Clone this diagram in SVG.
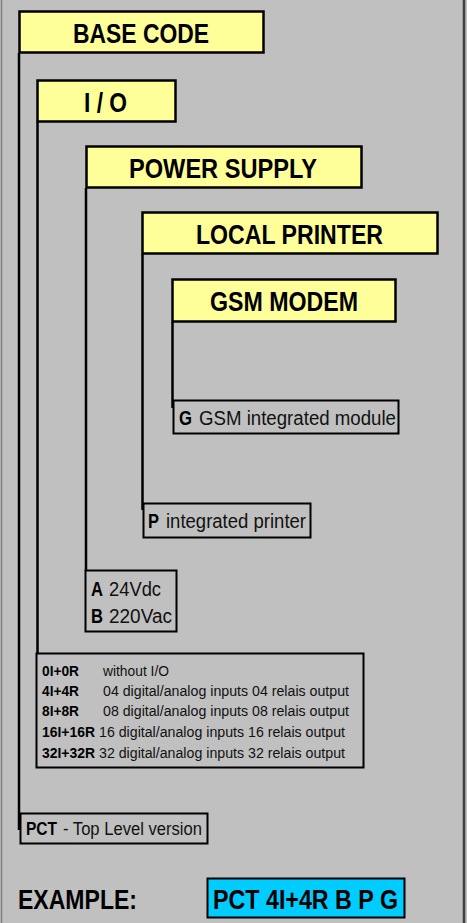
<svg xmlns="http://www.w3.org/2000/svg" width="467" height="923" viewBox="0 0 467 923">
<style>
.bg{fill:#c0c0c0}
.hdr{fill:#ffff99;stroke:#000;stroke-width:2.5}
.opt{fill:none;stroke:#000;stroke-width:2}
.ex{fill:#00ccff;stroke:#000;stroke-width:2}
.conn{stroke:#000;stroke-width:2.5;fill:none}
text{font-family:"Liberation Sans Narrow","Liberation Sans",Arial,sans-serif}
.h{font-size:27px;font-weight:bold;fill:#000}
.b{font-weight:bold;fill:#000}
.r{fill:#111}
.s19{font-size:20px}
.s17{font-size:17.5px}
.s15{font-size:15.5px}
</style>
<rect class="bg" x="0" y="0" width="467" height="923"/>
<line x1="1.5" y1="0" x2="1.5" y2="923" stroke="#808080" stroke-width="1.5"/>
<line x1="464" y1="0" x2="464" y2="923" stroke="#404040" stroke-width="2.5"/>

<g id="connectors">
<line class="conn" x1="19" y1="53" x2="19" y2="830"/>
<line class="conn" x1="37.5" y1="122" x2="37.5" y2="653"/>
<line class="conn" x1="86" y1="188" x2="86" y2="571"/>
<line class="conn" x1="142.5" y1="254" x2="142.5" y2="510"/>
<line class="conn" x1="172.5" y1="322" x2="172.5" y2="408"/>
</g>

<g id="base-code">
<rect class="hdr" x="19.5" y="11.5" width="244" height="41"/>
<text class="h" x="73" y="43" textLength="136" lengthAdjust="spacingAndGlyphs">BASE CODE</text>
</g>
<g id="io">
<rect class="hdr" x="37.5" y="80.5" width="138" height="41"/>
<text class="h" x="84" y="112" textLength="43" lengthAdjust="spacingAndGlyphs">I / O</text>
</g>
<g id="power-supply">
<rect class="hdr" x="86.5" y="146.5" width="275" height="41"/>
<text class="h" x="129" y="178" textLength="188" lengthAdjust="spacingAndGlyphs">POWER SUPPLY</text>
</g>
<g id="local-printer">
<rect class="hdr" x="142.5" y="212.5" width="295" height="41"/>
<text class="h" x="196" y="244" textLength="187" lengthAdjust="spacingAndGlyphs">LOCAL PRINTER</text>
</g>
<g id="gsm-modem">
<rect class="hdr" x="172.5" y="279.5" width="223" height="42"/>
<text class="h" x="210" y="311" textLength="148" lengthAdjust="spacingAndGlyphs">GSM MODEM</text>
</g>

<g id="gsm-option">
<rect class="opt" x="173.5" y="400.5" width="225" height="33"/>
<text class="b s19" x="179" y="425" textLength="13" lengthAdjust="spacingAndGlyphs">G</text>
<text class="r s19" x="199" y="425" textLength="197" lengthAdjust="spacingAndGlyphs">GSM integrated module</text>
</g>
<g id="printer-option">
<rect class="opt" x="143.5" y="503.5" width="167" height="34"/>
<text class="b s19" x="148" y="528" textLength="11" lengthAdjust="spacingAndGlyphs">P</text>
<text class="r s19" x="166" y="528" textLength="140" lengthAdjust="spacingAndGlyphs">integrated printer</text>
</g>
<g id="power-options">
<rect class="opt" x="85.5" y="570.5" width="91" height="61"/>
<text class="b s19" x="91" y="596" textLength="12" lengthAdjust="spacingAndGlyphs">A</text>
<text class="r s19" x="109" y="596" textLength="52" lengthAdjust="spacingAndGlyphs">24Vdc</text>
<text class="b s19" x="91" y="623" textLength="12" lengthAdjust="spacingAndGlyphs">B</text>
<text class="r s19" x="109" y="623" textLength="63" lengthAdjust="spacingAndGlyphs">220Vac</text>
</g>
<g id="io-options">
<rect class="opt" x="36.5" y="653.5" width="327" height="114"/>
<text class="b s15" x="42" y="676" textLength="37" lengthAdjust="spacingAndGlyphs">0I+0R</text>
<text class="r s15" x="103" y="676" textLength="66" lengthAdjust="spacingAndGlyphs">without I/O</text>
<text class="b s15" x="42" y="696" textLength="37" lengthAdjust="spacingAndGlyphs">4I+4R</text>
<text class="r s15" x="103" y="696" textLength="246" lengthAdjust="spacingAndGlyphs">04 digital/analog inputs 04 relais output</text>
<text class="b s15" x="42" y="716" textLength="37" lengthAdjust="spacingAndGlyphs">8I+8R</text>
<text class="r s15" x="103" y="716" textLength="246" lengthAdjust="spacingAndGlyphs">08 digital/analog inputs 08 relais output</text>
<text class="b s15" x="42" y="737" textLength="53" lengthAdjust="spacingAndGlyphs">16I+16R</text>
<text class="r s15" x="99" y="737" textLength="246" lengthAdjust="spacingAndGlyphs">16 digital/analog inputs 16 relais output</text>
<text class="b s15" x="42" y="758" textLength="53" lengthAdjust="spacingAndGlyphs">32I+32R</text>
<text class="r s15" x="99" y="758" textLength="246" lengthAdjust="spacingAndGlyphs">32 digital/analog inputs 32 relais output</text>
</g>
<g id="pct-option">
<rect class="opt" x="20.5" y="813.5" width="187" height="30"/>
<text class="b s17" x="26" y="835" textLength="31" lengthAdjust="spacingAndGlyphs">PCT</text>
<text class="r s17" x="63" y="835" textLength="139" lengthAdjust="spacingAndGlyphs">- Top Level version</text>
</g>
<g id="example">
<text class="h" x="18" y="909" textLength="119" lengthAdjust="spacingAndGlyphs">EXAMPLE:</text>
<rect class="ex" x="207.5" y="878.5" width="197" height="39"/>
<text class="h" x="213" y="909" textLength="185" lengthAdjust="spacingAndGlyphs">PCT 4I+4R B P G</text>
</g>
</svg>
